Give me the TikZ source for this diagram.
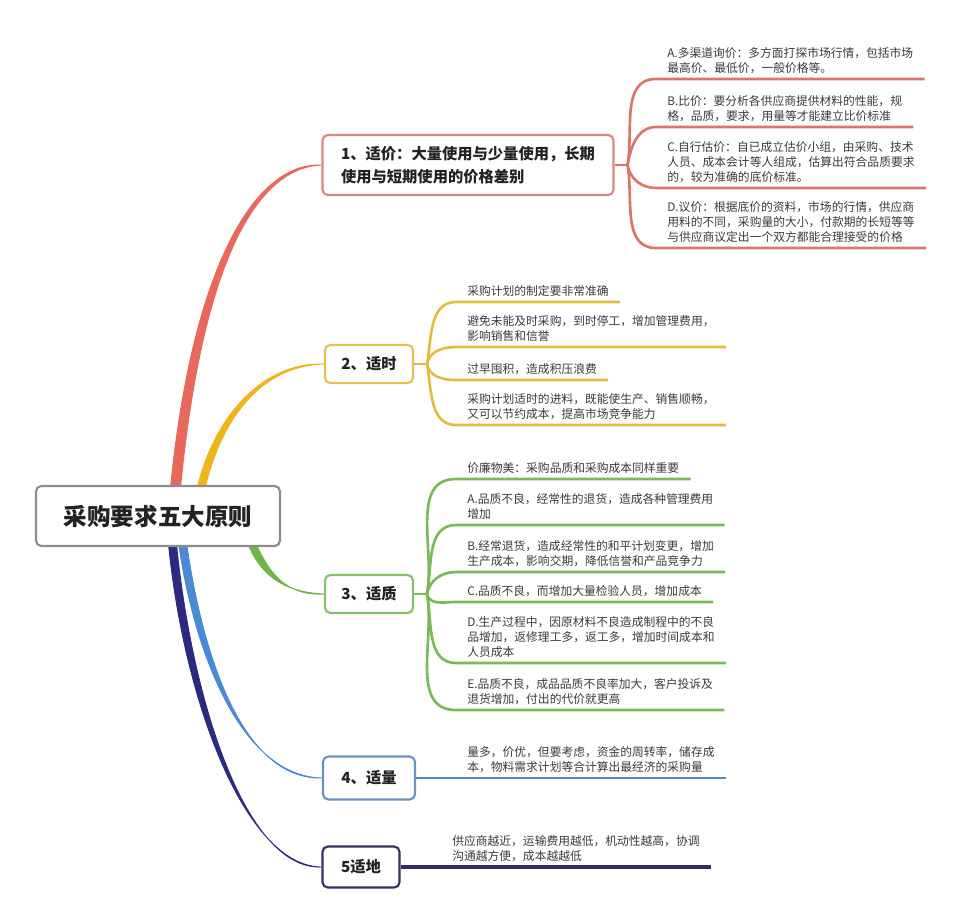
\documentclass[tikz,border=0pt]{standalone}
\usepackage{fontspec}
\setmainfont{Noto Sans CJK SC}
\usepackage{tikz}
\usetikzlibrary{positioning, calc, backgrounds}
\definecolor{brred}{HTML}{E8695C}
\definecolor{bryel}{HTML}{F0B51E}
\definecolor{brgrn}{HTML}{6DB64A}
\definecolor{brblu}{HTML}{4A8AD4}
\definecolor{brnav}{HTML}{2C2A7E}
\definecolor{bdred}{HTML}{D98880}
\definecolor{bdyel}{HTML}{E3C04F}
\definecolor{bdgrn}{HTML}{86C06A}
\definecolor{bdblu}{HTML}{6A93BF}
\definecolor{bdnav}{HTML}{34305F}
\definecolor{lnred}{HTML}{D8766C}
\definecolor{lnyel}{HTML}{E2BC40}
\definecolor{lngrn}{HTML}{7AB95A}
\definecolor{lnblu}{HTML}{5C88B5}
\definecolor{lnnav}{HTML}{2F2B68}
\definecolor{boxgray}{HTML}{8C8C8C}
\definecolor{ink}{HTML}{222222}
\definecolor{leafink}{HTML}{3A3A3A}

\begin{document}
\begin{tikzpicture}[x=0.02cm, y=-0.02cm,
  root/.style={draw=boxgray,line width=1.2pt,rounded corners=3pt,fill=white,
               minimum width=4.88cm,minimum height=1.2cm,text=ink,
               font=\fontsize{13.4}{16}\selectfont\bfseries},
  topic/.style={draw,line width=1.2pt,rounded corners=3pt,fill=white,
                minimum height=0.76cm,align=left,text=ink,
                font=\fontsize{8.7}{13}\selectfont\bfseries},
  leaf/.style={anchor=south west,inner xsep=0.22cm,inner ysep=2.8pt,align=left,
               text=leafink,font=\fontsize{6.7}{8.5}\selectfont},
  twig/.style={line width=1.5pt}]
  \useasboundingbox (0,0) rectangle (966,904);

  % centre box and the five principles
  \node[root] (root) at (158,516) {采购要求五大原则};
  \node[topic, draw=bdred, minimum width=5.82cm, minimum height=1.2cm] (jia) at (468,165)
    {1、适价：大量使用与少量使用，长期\\使用与短期使用的价格差别};
  \node[topic, draw=bdyel, minimum width=1.76cm] (shi) at (369,364) {2、适时};
  \node[topic, draw=bdgrn, minimum width=1.76cm] (zhi) at (369,594) {3、适质};
  \node[topic, draw=bdblu, minimum width=1.84cm, minimum height=0.86cm] (liang) at (369,778) {4、适量};
  \node[topic, draw=bdnav, minimum width=1.54cm, minimum height=0.82cm] (di) at (361,867) {5适地};

  \coordinate[right=0.26cm of jia] (f1);
  \coordinate[right=0.26cm of shi] (f2);
  \coordinate[right=0.26cm of zhi] (f3);

  \node[leaf] (jA) at (656,79) {A.多渠道询价：多方面打探市场行情，包括市场\\最高价、最低价，一般价格等。};
  \node[leaf] (jB) at (656,127) {B.比价：要分析各供应商提供材料的性能，规\\格，品质，要求，用量等才能建立比价标准};
  \node[leaf] (jC) at (656,188) {C.自行估价：自已成立估价小组，由采购、技术\\人员、成本会计等人组成，估算出符合品质要求\\的，较为准确的底价标准。};
  \node[leaf] (jD) at (656,248) {D.议价：根据底价的资料，市场的行情，供应商\\用料的不同，采购量的大小，付款期的长短等等\\与供应商议定出一个双方都能合理接受的价格};

  \node[leaf] (s1) at (456,302) {采购计划的制定要非常准确};
  \node[leaf] (s2) at (456,347) {避免未能及时采购，到时停工，增加管理费用，\\影响销售和信誉};
  \node[leaf] (s3) at (456,380) {过早囤积，造成积压浪费};
  \node[leaf] (s4) at (456,425) {采购计划适时的进料，既能使生产、销售顺畅，\\又可以节约成本，提高市场竞争能力};

  \node[leaf] (z0) at (456,479) {价廉物美：采购品质和采购成本同样重要};
  \node[leaf] (zA) at (456,525) {A.品质不良，经常性的退货，造成各种管理费用\\增加};
  \node[leaf] (zB) at (456,572) {B.经常退货，造成经常性的和平计划变更，增加\\生产成本，影响交期，降低信誉和产品竞争力};
  \node[leaf] (zC) at (456,602) {C.品质不良，而增加大量检验人员，增加成本};
  \node[leaf] (zD) at (456,663) {D.生产过程中，因原材料不良造成制程中的不良\\品增加，返修理工多，返工多，增加时间成本和\\人员成本};
  \node[leaf] (zE) at (456,710) {E.品质不良，成品品质不良率加大，客户投诉及\\退货增加，付出的代价就更高};

  \node[leaf] (q) at (456,778) {量多，价优，但要考虑，资金的周转率，储存成\\本，物料需求计划等合计算出最经济的采购量};
  \node[leaf] (p) at (441,867) {供应商越近，运输费用越低，机动性越高，协调\\沟通越方便，成本越越低};

  \begin{pgfonlayer}{background}
    \filldraw[brred, line width=0.5pt] ($(root.north)+(12,8)$) .. controls (190,280) and (250,162) .. (jia.west)
      .. controls (250,168) and (200,280) .. ($(root.north)+(22,8)$) -- cycle;
    \filldraw[bryel, line width=0.5pt] ($(root.north)+(38,8)$) .. controls (212,420) and (260,362) .. (shi.west)
      .. controls (260,366) and (220,420) .. ($(root.north)+(46,8)$) -- cycle;
    \filldraw[brgrn, line width=0.5pt] ($(root.south)+(88,-8)$) .. controls (260,577) and (285,592) .. (zhi.west)
      .. controls (285,596) and (268,572) .. ($(root.south)+(96,-8)$) -- cycle;
    \filldraw[brblu, line width=0.5pt] ($(root.south)+(20,-8)$) .. controls (193,650) and (240,776) .. (liang.west)
      .. controls (240,780) and (201,648) .. ($(root.south)+(28,-8)$) -- cycle;
    \filldraw[brnav, line width=0.5pt] ($(root.south)+(10,-8)$) .. controls (183,700) and (245,866) .. (di.west)
      .. controls (245,870) and (191,698) .. ($(root.south)+(18,-8)$) -- cycle;
  \end{pgfonlayer}

  \draw[twig, lnred] (jia.east) -- (f1);
  \foreach \l in {jA,jB} \draw[twig, lnred] (f1) to[out=80,in=180] (\l.south west) -- (\l.south east);
  \foreach \l in {jC,jD} \draw[twig, lnred] (f1) to[out=-80,in=180] (\l.south west) -- (\l.south east);
  \draw[twig, lnyel] (shi.east) -- (f2);
  \foreach \l in {s1,s2} \draw[twig, lnyel] (f2) to[out=80,in=180] (\l.south west) -- (\l.south east);
  \foreach \l in {s3,s4} \draw[twig, lnyel] (f2) to[out=-80,in=180] (\l.south west) -- (\l.south east);
  \draw[twig, lngrn] (zhi.east) -- (f3);
  \foreach \l in {z0,zA,zB} \draw[twig, lngrn] (f3) to[out=80,in=180] (\l.south west) -- (\l.south east);
  \foreach \l in {zC,zD,zE} \draw[twig, lngrn] (f3) to[out=-80,in=180] (\l.south west) -- (\l.south east);
  \draw[twig, lnblu] (liang.east) -- (q.south west) -- (q.south east);
  \draw[lnnav, line width=2.2pt] (di.east) -- (p.south west) -- (p.south east);
\end{tikzpicture}
\end{document}
